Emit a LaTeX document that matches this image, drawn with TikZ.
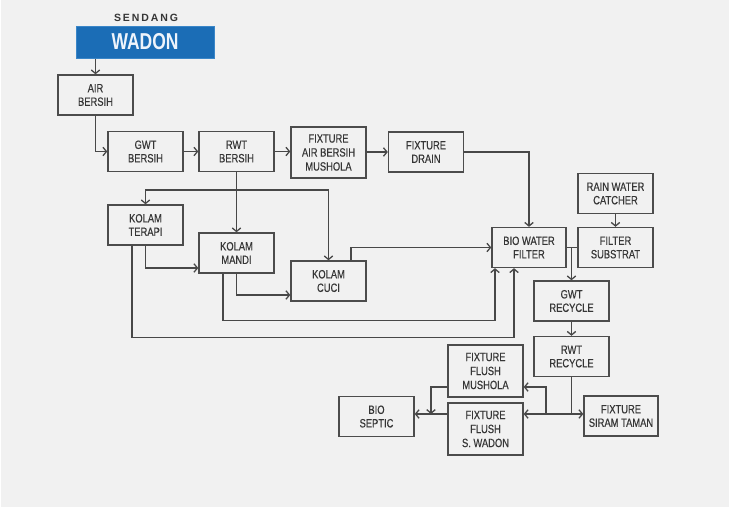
\documentclass[tikz,border=0pt]{standalone}
\usepackage{fontspec}
\setmainfont[FakeStretch=0.78, FakeBold=0.4]{Liberation Sans}
\newfontfamily\titlefont[FakeStretch=0.76]{Liberation Sans}
\newfontfamily\capsfont[LetterSpace=18]{Liberation Sans}
\usetikzlibrary{arrows.meta}

\definecolor{bg}{HTML}{F1F1F1}
\definecolor{boxline}{HTML}{4C4C4C}
\definecolor{wire}{HTML}{484848}
\definecolor{txt}{HTML}{363636}
\definecolor{wadonblue}{HTML}{1B6DB6}
\definecolor{wadonedge}{HTML}{3A86C8}
\definecolor{wadontext}{HTML}{EEF4FB}

\begin{document}
\begin{tikzpicture}[x=1pt,y=-1pt,
  box/.style={draw=boxline, line width=1.4pt, minimum width=75pt, minimum height=40pt,
    inner sep=1pt, align=center, text=txt, font=\fontsize{12}{13.5}\selectfont},
  tallbox/.style={box, minimum height=52pt, font=\fontsize{12}{14}\selectfont},
  link/.style={draw=wire, line width=1.3pt},
  arr/.style={link, -{Straight Barb[length=3.5pt,width=8.5pt]}}]

% canvas
\useasboundingbox (0,0) rectangle (730,509);
\fill[white] (0,0) rectangle (730,509);
\fill[bg] (1,0) rectangle (729,507);

% title block
\node[font=\capsfont\bfseries\fontsize{10.5}{10.5}\selectfont, text=txt] (sendang) at (146,18) {SENDANG};
\node[fill=wadonblue, draw=wadonedge, line width=1pt, minimum width=138pt, minimum height=32pt,
  text=wadontext, font=\titlefont\bfseries\fontsize{23}{23}\selectfont] (wadon) at (145,42) {WADON};

% clean water line
\node[box] (airb) at (95.5,95) {AIR\\BERSIH};
\node[box] (gwtb) at (145.5,151.5) {GWT\\BERSIH};
\node[box] (rwtb) at (236.5,151.5) {RWT\\BERSIH};
\node[tallbox, minimum height=51pt] (fabm) at (328.5,152.5) {FIXTURE\\AIR BERSIH\\MUSHOLA};
\node[box] (fdrain) at (426,152) {FIXTURE\\DRAIN};

% pools
\node[box] (terapi) at (145.5,225) {KOLAM\\TERAPI};
\node[box] (mandi) at (236.5,253) {KOLAM\\MANDI};
\node[box] (cuci) at (328.5,281) {KOLAM\\CUCI};

% recycling
\node[box, minimum width=74pt] (biof) at (529,247.5) {BIO WATER\\FILTER};
\node[box] (fsub) at (615.5,247.5) {FILTER\\SUBSTRAT};
\node[box] (rain) at (615.5,193.5) {RAIN WATER\\CATCHER};
\node[box] (gwtr) at (571.5,301) {GWT\\RECYCLE};
\node[box] (rwtr) at (571.5,356.5) {RWT\\RECYCLE};
\node[tallbox] (ffm) at (485.5,371) {FIXTURE\\FLUSH\\MUSHOLA};
\node[tallbox] (ffsw) at (485.5,429) {FIXTURE\\FLUSH\\S. WADON};
\node[box] (septic) at (376.5,416.5) {BIO\\SEPTIC};
\node[box, minimum width=74pt] (siram) at (621,416) {FIXTURE\\SIRAM TAMAN};

% junctions
\coordinate (j1) at (236.5,190);
\coordinate (j2) at (571.5,414);
\coordinate (j3) at (546,414);
\coordinate (j4) at (431,414);

% clean water connectors
\draw[arr] (airb.north |- wadon.south) -- (airb.north);
\draw[arr] (airb.south) |- (gwtb.west);
\draw[arr] (gwtb.east) -- (rwtb.west);
\draw[arr] (rwtb.east) -- (rwtb.east -| fabm.west);
\draw[arr] (fabm.east |- fdrain.west) -- (fdrain.west);
\draw[arr] (fdrain.east) -| (biof.north);

% supply to the pools
\draw[arr] (rwtb.south) -- (mandi.north);
\draw[arr] (j1) -| (terapi.north);
\draw[arr] (j1) -| (cuci.north);
\draw[arr] (terapi.south) |- ([yshift=-15pt]mandi.west);
\draw[arr] (mandi.south) |- ([yshift=-14pt]cuci.west);

% pools to the bio water filter
\draw[arr] ([xshift=22.5pt]cuci.north) |- (biof.west);
\draw[arr] ([xshift=-13.5pt]mandi.south) -- ++(0,47) -| ([xshift=-34pt]biof.south);
\draw[arr] ([xshift=-13.5pt]terapi.south) -- ++(0,92) -| ([xshift=-15pt]biof.south);

% filter and recycle chain
\draw[link] (biof.east) -- (fsub.west);
\draw[arr] (gwtr.north |- biof.east) -- (gwtr.north);
\draw[arr] (rain.south) -- (fsub.north);
\draw[arr] (gwtr.south) -- (rwtr.north);

% recycled water to fixtures
\draw[link] (rwtr.south) -- (j2);
\draw[arr] (j2) -- (j2 -| siram.west);
\draw[arr] (j2) -- (j2 -| ffsw.east);
\draw[arr] (j3) |- ([yshift=-16pt]ffm.east);

% flush water to septic
\draw[arr] ([yshift=-16pt]ffm.west) -| (j4);
\draw[arr] (j4 -| ffsw.west) -- (j4 -| septic.east);
\end{tikzpicture}
\end{document}
